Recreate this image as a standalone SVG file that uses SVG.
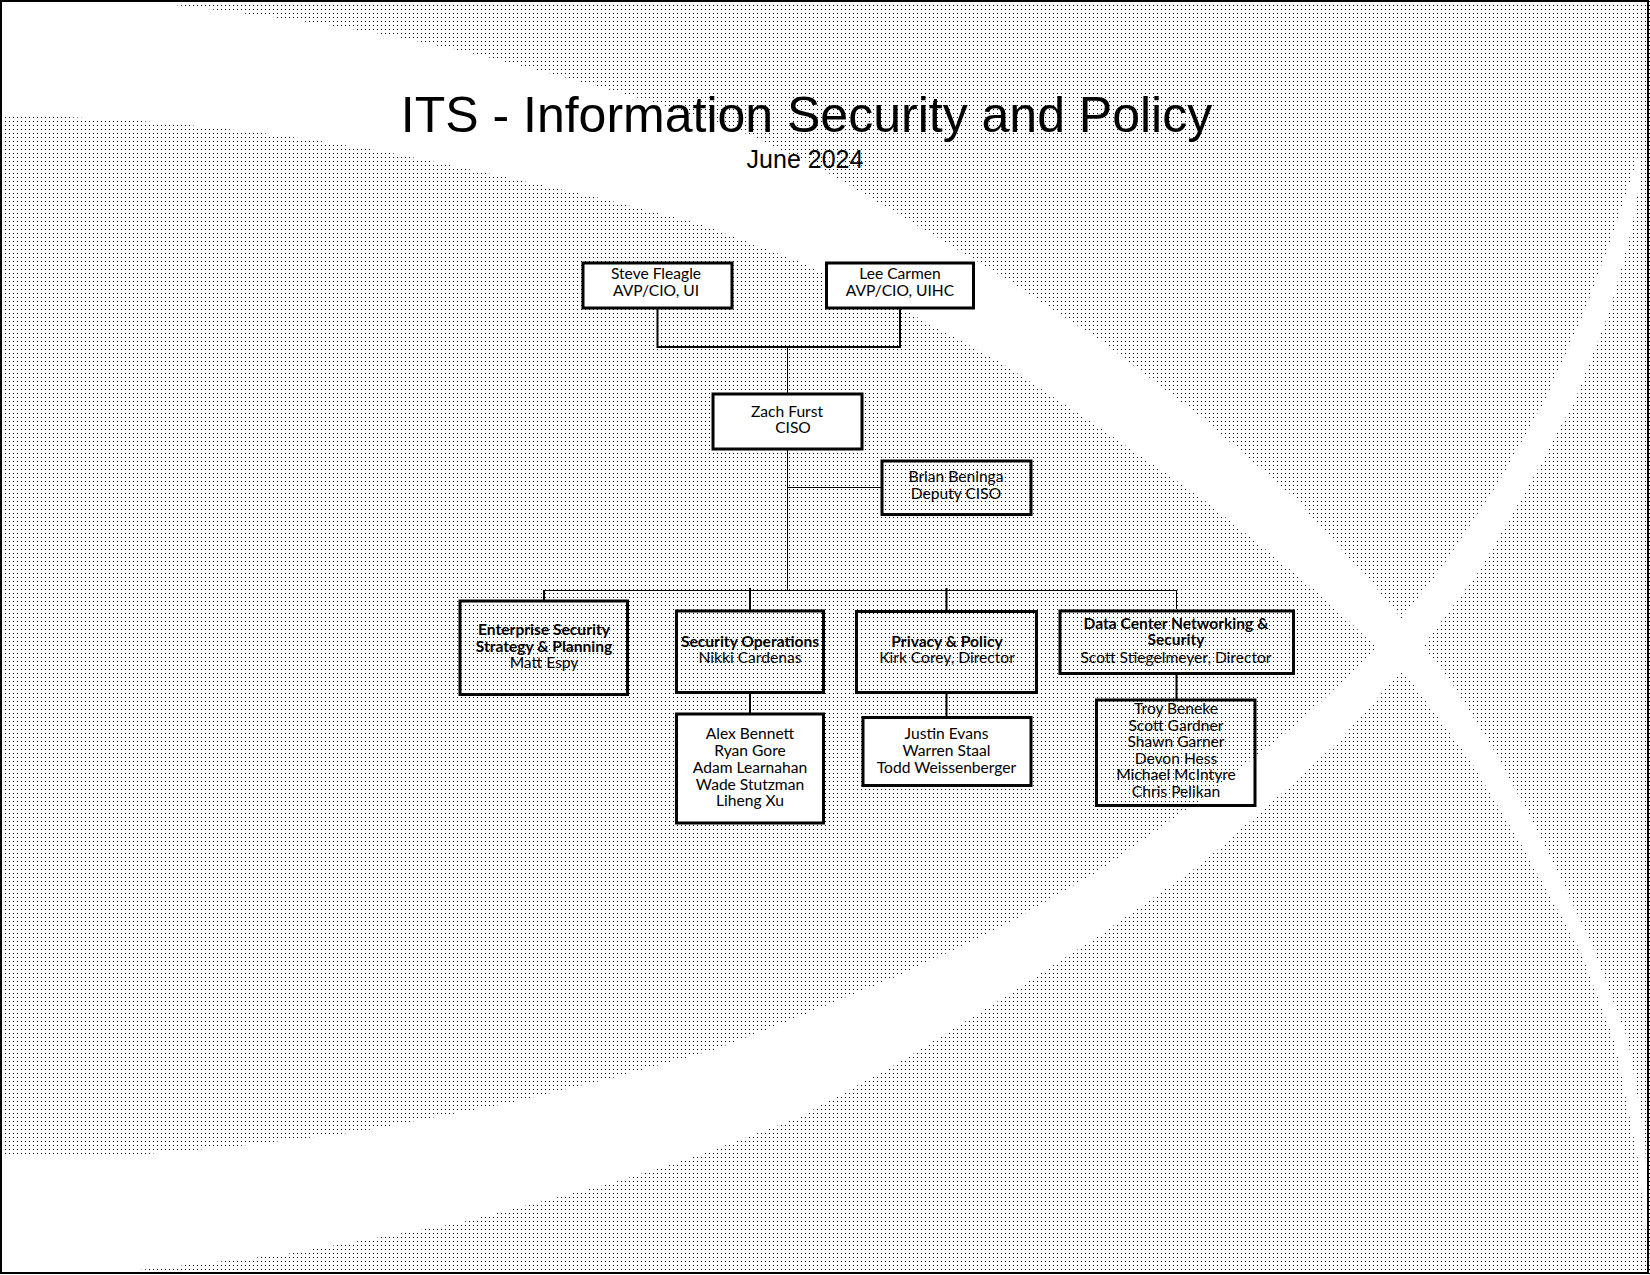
<svg xmlns="http://www.w3.org/2000/svg" width="1650" height="1275" viewBox="0 0 1650 1275">
<defs>
<pattern id="dots" width="4" height="4" patternUnits="userSpaceOnUse"><rect x="1" y="1" width="1" height="1" fill="#000"/></pattern>
<style>
.box{fill:#fff;stroke:#000;stroke-width:3}
.boxt{fill:none;stroke:#000;stroke-width:3}
.t{font-family:Lato,"Liberation Sans",sans-serif;font-size:15.6px;text-anchor:middle;fill:#000}
.b{font-weight:bold}
.c1{stroke:#000;stroke-width:1;fill:none}
.c2{stroke:#000;stroke-width:2;fill:none}
.band{fill:#fff;stroke:none}
</style>
</defs>
<g id="background">
<rect x="0" y="0" width="1650" height="1275" fill="#fff"/>
<rect x="0" y="0" width="1650" height="1275" fill="url(#dots)"/>
<path class="band" d="M0,0 L132,0 L200,8 L265,16 L322,24 L393,36 L480,55 L575,80 L660,104 L738,130 L820,168 L900,215 L1000,275 L1100,340 L1200,416 L1297,500 L1387,600 L1450,680 L1500,760 L1545,846 L1590,940 L1628,1040 L1645,1140 L1650,1270 L1638,1160 L1615,1043 L1580,950 L1522,846 L1470,760 L1410,680 L1327,600 L1260,545 L1200,497 L1100,428 L1000,362 L900,308 L800,262 L700,224 L600,198 L505,177 L440,163 L387,152 L313,140 L255,132 L178,124 L127,120 L45,116 L0,115 Z"/>
<path class="band" d="M0,1157 L122,1156 L230,1147 L357,1132 L510,1103 L612,1078 L714,1050 L798,1017 L900,975 L1000,928 L1100,870 L1200,800 L1300,722 L1380,645 L1440,570 L1500,480 L1545,400 L1585,310 L1615,228 L1632,175 L1640,150 L1641,175 L1631,232 L1610,310 L1575,400 L1532,480 L1480,570 L1420,650 L1340,740 L1280,795 L1200,865 L1100,935 L1000,1000 L900,1062 L798,1118 L700,1155 L612,1183 L459,1223 L281,1255 L92,1275 L0,1275 Z"/>
<rect x="1" y="1" width="1647" height="1272" fill="none" stroke="#000" stroke-width="2"/>
</g>
<g id="title">
<text x="806.5" y="131.5" font-family="'Liberation Sans',Arial,sans-serif" font-size="50" text-anchor="middle">ITS - Information Security and Policy</text>
<text x="805" y="168" font-family="'Liberation Sans',Arial,sans-serif" font-size="25" text-anchor="middle">June 2024</text>
</g>
<g id="connectors">
<path class="c2" d="M657.5,309 V347 M900,309 V347 M656.5,347 H901"/>
<path class="c1" d="M787.5,347 V393 M787.5,450 V591 M787.5,487.5 H881 M543,590.5 H1177.5 M1176.5,590 V609"/>
<path class="c2" d="M544,590 V600 M750,588 V610 M946.5,588 V610 M750,693 V713 M946.5,693 V716 M1176.5,675 V699"/>
</g>
<g id="steve"><rect class="box" x="583" y="263" width="149" height="45"/><text class="t" x="656" y="279">Steve Fleagle</text><text class="t" x="656" y="295.5">AVP/CIO, UI</text></g>
<g id="lee"><rect class="box" x="826.5" y="263" width="147" height="45"/><text class="t" x="900" y="279">Lee Carmen</text><text class="t" x="900" y="295.5">AVP/CIO, UIHC</text></g>
<g id="zach"><rect class="box" x="713" y="394" width="149" height="55"/><text class="t" x="787" y="416.5">Zach Furst</text><text class="t" x="793" y="433">CISO</text></g>
<g id="brian"><rect class="boxt" x="882" y="461" width="149" height="53.5"/><text class="t" x="956" y="481.5">Brian Beninga</text><text class="t" x="956" y="499">Deputy CISO</text></g>
<g id="enterprise"><rect class="boxt" x="460" y="601" width="167.5" height="93.5"/><text class="t b" x="544" y="634.5">Enterprise Security</text><text class="t b" x="544" y="651.5">Strategy &amp; Planning</text><text class="t" x="544" y="667.5">Matt Espy</text></g>
<g id="secops"><rect class="boxt" x="676.5" y="611" width="147" height="81.5"/><text class="t b" x="750" y="646.5">Security Operations</text><text class="t" x="750" y="663">Nikki Cardenas</text></g>
<g id="secops-team"><rect class="box" x="676.5" y="714" width="147" height="109"/><text class="t" x="750" y="738.5">Alex Bennett</text><text class="t" x="750" y="755.5">Ryan Gore</text><text class="t" x="750" y="772.5">Adam Learnahan</text><text class="t" x="750" y="789.5">Wade Stutzman</text><text class="t" x="750" y="806">Liheng Xu</text></g>
<g id="privacy"><rect class="boxt" x="856.5" y="611.5" width="180" height="81"/><text class="t b" x="947" y="646.5">Privacy &amp; Policy</text><text class="t" x="947" y="663">Kirk Corey, Director</text></g>
<g id="privacy-team"><rect class="box" x="863" y="717.5" width="168" height="68"/><text class="t" x="946.5" y="739">Justin Evans</text><text class="t" x="946.5" y="756">Warren Staal</text><text class="t" x="946.5" y="772.5">Todd Weissenberger</text></g>
<g id="datacenter"><rect class="boxt" x="1060" y="611" width="233.5" height="62.5"/><text class="t b" x="1176" y="628.5">Data Center Networking &amp;</text><text class="t b" x="1176" y="645">Security</text><text class="t" x="1176" y="662.5">Scott Stiegelmeyer, Director</text></g>
<g id="datacenter-team"><rect class="boxt" x="1096.5" y="700" width="158.5" height="105.5"/><text class="t" x="1176" y="714">Troy Beneke</text><text class="t" x="1176" y="730.5">Scott Gardner</text><text class="t" x="1176" y="747">Shawn Garner</text><text class="t" x="1176" y="763.5">Devon Hess</text><text class="t" x="1176" y="780">Michael McIntyre</text><text class="t" x="1176" y="796.5">Chris Pelikan</text></g>
</svg>
